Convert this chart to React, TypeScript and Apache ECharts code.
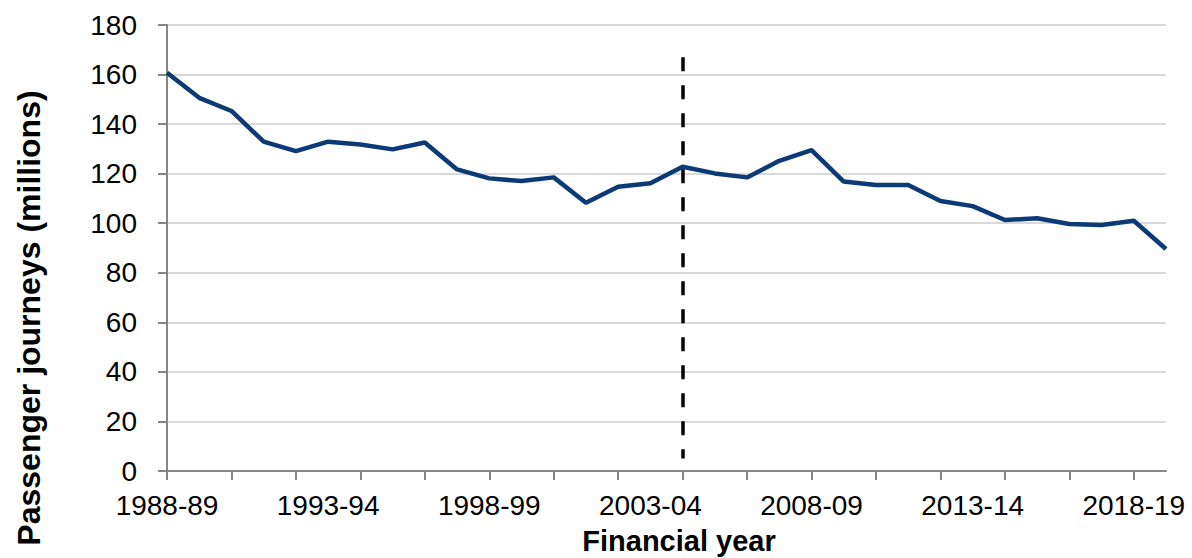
import React, { useEffect, useRef } from "react";
import * as echarts from "echarts";

const categories = [
  "1988-89", "1989-90", "1990-91", "1991-92", "1992-93", "1993-94", "1994-95", "1995-96",
  "1996-97", "1997-98", "1998-99", "1999-00", "2000-01", "2001-02", "2002-03", "2003-04",
  "2004-05", "2005-06", "2006-07", "2007-08", "2008-09", "2009-10", "2010-11", "2011-12",
  "2012-13", "2013-14", "2014-15", "2015-16", "2016-17", "2017-18", "2018-19", "2019-20",
];

const journeys = [
  160.7, 150.6, 145.3, 132.9, 129.1, 132.9, 131.8, 129.8,
  132.6, 121.7, 118.1, 117.0, 118.5, 108.3, 114.7, 116.1,
  122.8, 120.1, 118.5, 125.2, 129.5, 116.8, 115.4, 115.4,
  109.0, 106.9, 101.3, 102.0, 99.7, 99.3, 101.0, 89.6,
];

const breakYear = "2004-05";
const breakRange = [5, 167];

const yTitle = "Passenger journeys (millions)";
const xTitle = "Financial year";

export default function App() {
  const ref = useRef<HTMLDivElement>(null);
  useEffect(() => {
    if (!ref.current) return;
    const chart = echarts.init(ref.current, undefined, { renderer: "svg" });
    const font = "'Liberation Sans', Arial, sans-serif";
    chart.setOption({
      animation: false,
      backgroundColor: "#ffffff",
      grid: { left: 167, right: 26, top: 25, bottom: 87, containLabel: false },
      xAxis: {
        type: "category",
        data: categories,
        boundaryGap: false,
        axisLine: { lineStyle: { color: "#868686", width: 2 } },
        axisTick: { show: true, interval: 1, length: 9, lineStyle: { color: "#868686", width: 2 } },
        axisLabel: {
          interval: 4,
          margin: 20,
          fontSize: 28,
          color: "#000000",
          fontFamily: font,
        },
        splitLine: { show: false },
      },
      yAxis: {
        type: "value",
        min: 0,
        max: 180,
        interval: 20,
        axisLine: { show: true, lineStyle: { color: "#868686", width: 2 } },
        axisTick: { show: true, length: 9, lineStyle: { color: "#868686", width: 2 } },
        axisLabel: { margin: 30, fontSize: 28, color: "#000000", fontFamily: font },
        splitLine: { lineStyle: { color: "#d9d9d9", width: 2 } },
      },
      series: [
        {
          type: "line",
          data: journeys,
          symbol: "none",
          lineStyle: { color: "#0b3b76", width: 4.5 },
          markLine: {
            silent: true,
            symbol: ["none", "none"],
            label: { show: false },
            lineStyle: { color: "#000000", width: 3.5, type: [14, 14] },
            data: [
              [
                { xAxis: breakYear, yAxis: breakRange[1] },
                { xAxis: breakYear, yAxis: breakRange[0] },
              ],
            ],
          },
        },
      ],
      graphic: [
        {
          type: "text",
          x: 679,
          y: 541,
          style: {
            text: xTitle,
            font: `bold 29px ${font}`,
            fill: "#000000",
            align: "center",
            verticalAlign: "middle",
          },
        },
        {
          type: "text",
          x: 29,
          y: 318,
          rotation: Math.PI / 2,
          style: {
            text: yTitle,
            font: `bold 32px ${font}`,
            fill: "#000000",
            align: "center",
            verticalAlign: "middle",
          },
        },
      ],
    });
    return () => chart.dispose();
  }, []);
  return (
    <div
      ref={ref}
      style={{ position: "fixed", left: 0, top: 0, width: 1192, height: 558, background: "#fff" }}
    />
  );
}
